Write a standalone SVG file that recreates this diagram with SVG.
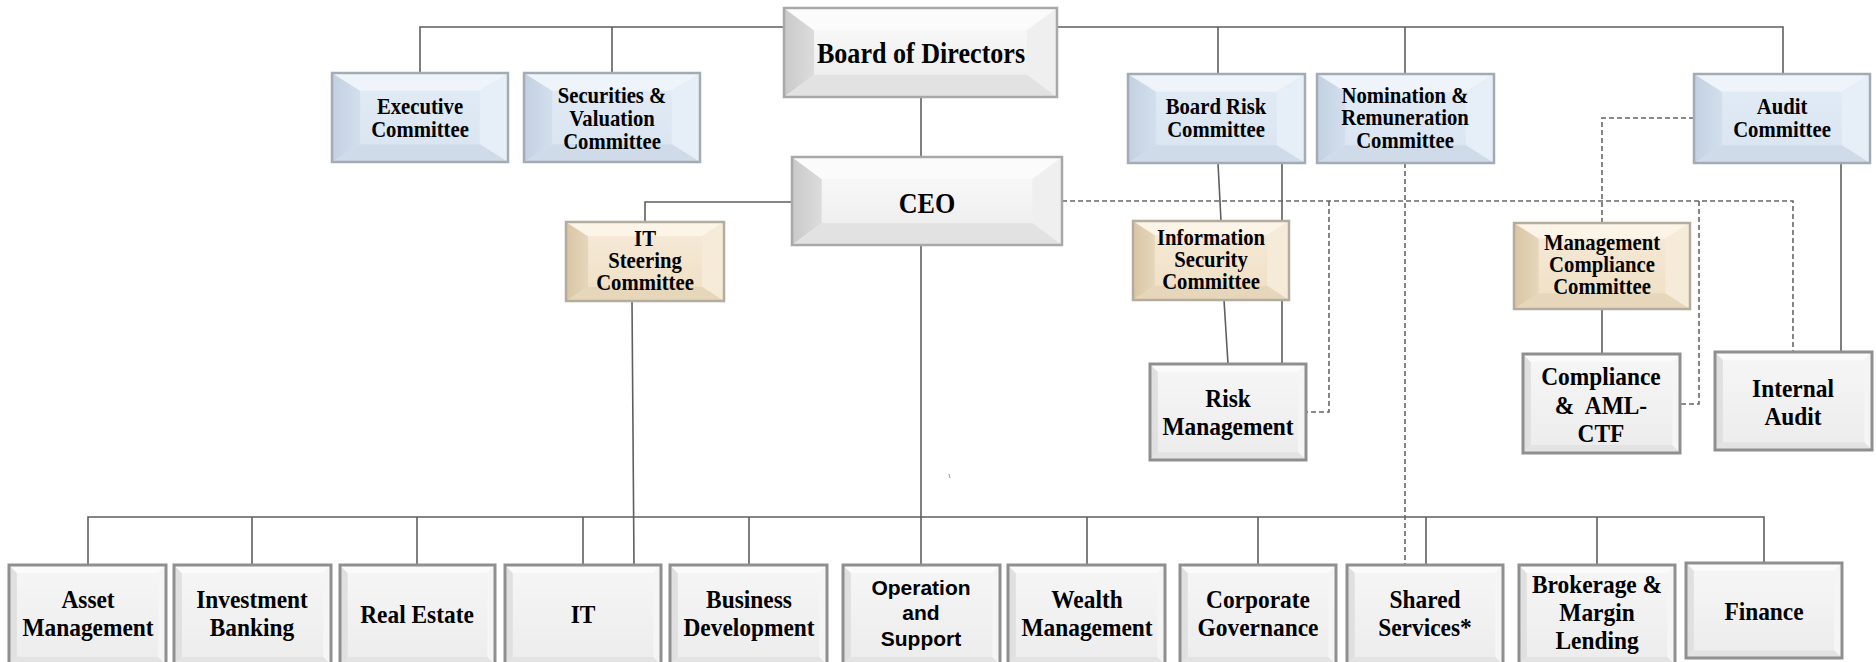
<svg xmlns="http://www.w3.org/2000/svg" xmlns:xlink="http://www.w3.org/1999/xlink" width="1876" height="662" viewBox="0 0 1876 662">
<style>
.t{font-family:"Liberation Serif","Times New Roman",serif;font-weight:bold;fill:#000;text-anchor:middle;transform-box:fill-box;transform-origin:center;transform:scaleX(0.9)}
.s27{font-size:29px}.s21{font-size:23px}.s24{font-size:26px}
.sans{font-family:"Liberation Sans",Arial,sans-serif;font-size:21px;transform:none}
.sol{fill:none;stroke:#5f5f5f;stroke-width:1.6}
.dash{fill:none;stroke:#666;stroke-width:1.6;stroke-dasharray:5 3}
.bG{fill:none;stroke:#a8a8a8;stroke-width:2.5}
.bB{fill:none;stroke:#a3abb5;stroke-width:2.5}
.bY{fill:none;stroke:#b4ac9f;stroke-width:2.5}
.bS{fill:none;stroke:#8f8f8f;stroke-width:3}
</style>
<defs>
<linearGradient id="gGi" x1="0" y1="0" x2="0" y2="1"><stop offset="0" stop-color="#fbfbfb"/><stop offset="1" stop-color="#ebebeb"/></linearGradient>
<linearGradient id="gGl" x1="0" y1="0" x2="1" y2="0"><stop offset="0" stop-color="#c9c9c9"/><stop offset="1" stop-color="#dcdcdc"/></linearGradient>
<linearGradient id="gBi" x1="0" y1="0" x2="0" y2="1"><stop offset="0" stop-color="#e2ecf6"/><stop offset="1" stop-color="#d8e4f1"/></linearGradient>
<linearGradient id="gBl" x1="0" y1="0" x2="1" y2="0"><stop offset="0" stop-color="#c2d0e1"/><stop offset="1" stop-color="#d3dfed"/></linearGradient>
<linearGradient id="gYi" x1="0" y1="0" x2="0" y2="1"><stop offset="0" stop-color="#f6eada"/><stop offset="1" stop-color="#efdfc2"/></linearGradient>
<linearGradient id="gYl" x1="0" y1="0" x2="1" y2="0"><stop offset="0" stop-color="#d8c5a4"/><stop offset="1" stop-color="#e6d7bb"/></linearGradient>
<linearGradient id="gSi" x1="0" y1="0" x2="0" y2="1"><stop offset="0" stop-color="#f6f6f6"/><stop offset="1" stop-color="#ececec"/></linearGradient>
<symbol id="bvG" viewBox="0 0 100 100" preserveAspectRatio="none">
<rect width="100" height="100" fill="url(#gGi)"/>
<polygon points="0,0 11,25 11,75 0,100" fill="url(#gGl)"/>
<polygon points="0,0 100,0 89,25 11,25" fill="#fbfbfb"/>
<polygon points="100,0 100,100 89,75 89,25" fill="#efefef"/>
<polygon points="0,100 11,75 89,75 100,100" fill="#e2e2e2"/>
</symbol>
<symbol id="bvB" viewBox="0 0 100 100" preserveAspectRatio="none">
<rect width="100" height="100" fill="url(#gBi)"/>
<polygon points="0,0 16,20 16,80 0,100" fill="url(#gBl)"/>
<polygon points="0,0 100,0 84,20 16,20" fill="#eef4fa"/>
<polygon points="100,0 100,100 84,80 84,20" fill="#e6eef8"/>
<polygon points="0,100 16,80 84,80 100,100" fill="#cfdbe9"/>
</symbol>
<symbol id="bvY" viewBox="0 0 100 100" preserveAspectRatio="none">
<rect width="100" height="100" fill="url(#gYi)"/>
<polygon points="0,0 14,18 14,82 0,100" fill="url(#gYl)"/>
<polygon points="0,0 100,0 86,18 14,18" fill="#fbf4e7"/>
<polygon points="100,0 100,100 86,82 86,18" fill="#f5ebd8"/>
<polygon points="0,100 14,82 86,82 100,100" fill="#e6d7bb"/>
</symbol>
<symbol id="bvS" viewBox="0 0 100 100" preserveAspectRatio="none">
<rect width="100" height="100" fill="url(#gSi)"/>
<polygon points="0,0 5,8 5,92 0,100" fill="#e0e0e0"/>
<polygon points="0,0 100,0 95,8 5,8" fill="#fbfbfb"/>
<polygon points="100,0 100,100 95,92 95,8" fill="#f5f5f5"/>
<polygon points="0,100 5,92 95,92 100,100" fill="#e3e3e3"/>
</symbol>
</defs>
<rect width="1876" height="662" fill="#fff"/>
<g id="connectors">
<path class="sol" d="M420,73 V27 H1783 V74 M612,27 V73 M1218,27 V74 M1405,27 V74 M921,97 V157 M792,202 H645 V222 M921,245 V517"/>
<path class="sol" d="M88,565 V517 H1764 V565 M252,517 V565 M417,517 V565 M583,517 V565 M749,517 V565 M921,517 V565 M1087,517 V565 M1258,517 V565 M1426,517 V565 M1597,517 V565"/>
<path class="sol" d="M632,301 L634,565 M1218,163 L1221,221 M1282,163 V221 M1224,300 L1228,364 M1282,300 V364 M1602,309 V354 M1841,163 V352"/>
<path class="dash" d="M1062,201 H1793 V352 M1329,201 V412 H1306 M1699,201 V404 H1680 M1694,118 H1602 V223 M1405,163 V565"/>
<path d="M949,474 L950,478" stroke="#999" stroke-width="1"/>
</g>
<g id="board"><use href="#bvG" x="784" y="8" width="273" height="89"/><rect class="bG" x="784" y="8" width="273" height="89"/><text class="t s27" x="921" y="63">Board of Directors</text></g>
<g id="ceo"><use href="#bvG" x="792" y="157" width="270" height="88"/><rect class="bG" x="792" y="157" width="270" height="88"/><text class="t s27" x="927" y="213">CEO</text></g>
<g id="executive"><use href="#bvB" x="332" y="73" width="176" height="89"/><rect class="bB" x="332" y="73" width="176" height="89"/><text class="t s21" x="420" y="114">Executive</text><text class="t s21" x="420" y="137">Committee</text></g>
<g id="securities"><use href="#bvB" x="524" y="73" width="176" height="89"/><rect class="bB" x="524" y="73" width="176" height="89"/><text class="t s21" x="612" y="103">Securities &amp;</text><text class="t s21" x="612" y="126">Valuation</text><text class="t s21" x="612" y="149">Committee</text></g>
<g id="boardrisk"><use href="#bvB" x="1128" y="74" width="177" height="89"/><rect class="bB" x="1128" y="74" width="177" height="89"/><text class="t s21" x="1216" y="114">Board Risk</text><text class="t s21" x="1216" y="137">Committee</text></g>
<g id="nomination"><use href="#bvB" x="1317" y="74" width="177" height="89"/><rect class="bB" x="1317" y="74" width="177" height="89"/><text class="t s21" x="1405" y="103">Nomination &amp;</text><text class="t s21" x="1405" y="125">Remuneration</text><text class="t s21" x="1405" y="148">Committee</text></g>
<g id="audit"><use href="#bvB" x="1694" y="74" width="176" height="89"/><rect class="bB" x="1694" y="74" width="176" height="89"/><text class="t s21" x="1782" y="114">Audit</text><text class="t s21" x="1782" y="137">Committee</text></g>
<g id="itsteering"><use href="#bvY" x="566" y="222" width="158" height="79"/><rect class="bY" x="566" y="222" width="158" height="79"/><text class="t s21" x="645" y="246">IT</text><text class="t s21" x="645" y="268">Steering</text><text class="t s21" x="645" y="290">Committee</text></g>
<g id="infosec"><use href="#bvY" x="1133" y="221" width="156" height="79"/><rect class="bY" x="1133" y="221" width="156" height="79"/><text class="t s21" x="1211" y="245">Information</text><text class="t s21" x="1211" y="267">Security</text><text class="t s21" x="1211" y="289">Committee</text></g>
<g id="mgmtcompliance"><use href="#bvY" x="1514" y="223" width="176" height="86"/><rect class="bY" x="1514" y="223" width="176" height="86"/><text class="t s21" x="1602" y="250">Management</text><text class="t s21" x="1602" y="272">Compliance</text><text class="t s21" x="1602" y="294">Committee</text></g>
<g id="riskmgmt"><use href="#bvS" x="1150" y="364" width="156" height="96"/><rect class="bS" x="1150" y="364" width="156" height="96"/><text class="t s24" x="1228" y="407">Risk</text><text class="t s24" x="1228" y="435">Management</text></g>
<g id="compliance"><use href="#bvS" x="1523" y="354" width="157" height="99"/><rect class="bS" x="1523" y="354" width="157" height="99"/><text class="t s24" x="1601" y="385">Compliance</text><text class="t s24" x="1601" y="414" xml:space="preserve">&amp;  AML-</text><text class="t s24" x="1601" y="442">CTF</text></g>
<g id="internalaudit"><use href="#bvS" x="1715" y="352" width="157" height="98"/><rect class="bS" x="1715" y="352" width="157" height="98"/><text class="t s24" x="1793" y="397">Internal</text><text class="t s24" x="1793" y="425">Audit</text></g>
<g id="assetmgmt"><use href="#bvS" x="9" y="565" width="157" height="100"/><rect class="bS" x="9" y="565" width="157" height="100"/><text class="t s24" x="88" y="608">Asset</text><text class="t s24" x="88" y="636">Management</text></g>
<g id="investment"><use href="#bvS" x="174" y="565" width="157" height="100"/><rect class="bS" x="174" y="565" width="157" height="100"/><text class="t s24" x="252" y="608">Investment</text><text class="t s24" x="252" y="636">Banking</text></g>
<g id="realestate"><use href="#bvS" x="340" y="565" width="155" height="100"/><rect class="bS" x="340" y="565" width="155" height="100"/><text class="t s24" x="417" y="623">Real Estate</text></g>
<g id="it"><use href="#bvS" x="505" y="565" width="156" height="100"/><rect class="bS" x="505" y="565" width="156" height="100"/><text class="t s24" x="583" y="623">IT</text></g>
<g id="busdev"><use href="#bvS" x="670" y="565" width="157" height="100"/><rect class="bS" x="670" y="565" width="157" height="100"/><text class="t s24" x="749" y="608">Business</text><text class="t s24" x="749" y="636">Development</text></g>
<g id="operation"><use href="#bvS" x="843" y="565" width="157" height="100"/><rect class="bS" x="843" y="565" width="157" height="100"/><text class="t sans" x="921" y="595">Operation</text><text class="t sans" x="921" y="620">and</text><text class="t sans" x="921" y="646">Support</text></g>
<g id="wealth"><use href="#bvS" x="1008" y="565" width="157" height="100"/><rect class="bS" x="1008" y="565" width="157" height="100"/><text class="t s24" x="1087" y="608">Wealth</text><text class="t s24" x="1087" y="636">Management</text></g>
<g id="corpgov"><use href="#bvS" x="1180" y="565" width="156" height="100"/><rect class="bS" x="1180" y="565" width="156" height="100"/><text class="t s24" x="1258" y="608">Corporate</text><text class="t s24" x="1258" y="636">Governance</text></g>
<g id="shared"><use href="#bvS" x="1347" y="565" width="156" height="100"/><rect class="bS" x="1347" y="565" width="156" height="100"/><text class="t s24" x="1425" y="608">Shared</text><text class="t s24" x="1425" y="636">Services*</text></g>
<g id="brokerage"><use href="#bvS" x="1519" y="565" width="156" height="100"/><rect class="bS" x="1519" y="565" width="156" height="100"/><text class="t s24" x="1597" y="593">Brokerage &amp;</text><text class="t s24" x="1597" y="621">Margin</text><text class="t s24" x="1597" y="649">Lending</text></g>
<g id="finance"><use href="#bvS" x="1686" y="563" width="156" height="95"/><rect class="bS" x="1686" y="563" width="156" height="95"/><text class="t s24" x="1764" y="620">Finance</text></g>
</svg>
